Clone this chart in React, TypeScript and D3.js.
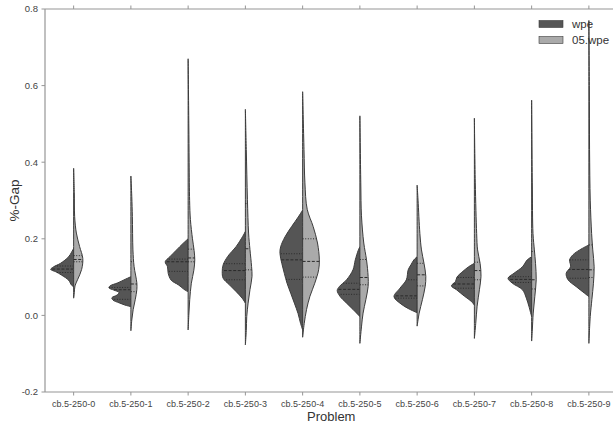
import * as d3 from "d3";

const W = 613;
const H = 424;
const margin = { top: 9, left: 45, bottom: 392, right: 617.5 };

const problems = [
  "cb.5-250-0", "cb.5-250-1", "cb.5-250-2", "cb.5-250-3", "cb.5-250-4",
  "cb.5-250-5", "cb.5-250-6", "cb.5-250-7", "cb.5-250-8", "cb.5-250-9",
];
const seriesNames = ["wpe", "05.wpe"];
const yTicks = [-0.2, 0.0, 0.2, 0.4, 0.6, 0.8];

// density profiles: [%-gap, relative density]
const wpeProfiles: [number, number][][] = [
  [[0.075, 0], [0.079, 0.09], [0.092, 0.22], [0.105, 0.52], [0.114, 0.78], [0.12, 1.0], [0.127, 0.87], [0.136, 0.57], [0.153, 0.22], [0.165, 0.09], [0.175, 0]],
  [[0.023, 0], [0.027, 0.26], [0.033, 0.52], [0.04, 0.78], [0.046, 0.83], [0.053, 0.61], [0.06, 0.52], [0.066, 0.74], [0.072, 0.96], [0.077, 0.91], [0.085, 0.57], [0.095, 0.22], [0.101, 0]],
  [[0.062, 0], [0.066, 0.13], [0.08, 0.43], [0.092, 0.74], [0.11, 0.87], [0.127, 0.9], [0.14, 1.0], [0.153, 0.8], [0.17, 0.52], [0.188, 0.22], [0.2, 0]],
  [[0.032, 0], [0.045, 0.14], [0.062, 0.4], [0.08, 0.7], [0.097, 0.97], [0.114, 1.01], [0.132, 0.97], [0.154, 0.77], [0.18, 0.4], [0.206, 0.12], [0.219, 0]],
  [[-0.038, 0], [-0.021, 0.09], [0.005, 0.2], [0.032, 0.36], [0.058, 0.52], [0.084, 0.68], [0.11, 0.8], [0.136, 0.91], [0.162, 0.99], [0.179, 0.96], [0.205, 0.77], [0.232, 0.48], [0.257, 0.19], [0.275, 0]],
  [[-0.003, 0], [0.015, 0.29], [0.032, 0.58], [0.05, 0.87], [0.065, 0.99], [0.075, 0.9], [0.093, 0.58], [0.119, 0.3], [0.145, 0.2], [0.17, 0.07], [0.179, 0]],
  [[0.007, 0], [0.018, 0.39], [0.032, 0.75], [0.049, 1.01], [0.071, 0.75], [0.093, 0.47], [0.119, 0.39], [0.132, 0.27], [0.145, 0.14], [0.153, 0]],
  [[0.027, 0], [0.037, 0.14], [0.05, 0.43], [0.067, 0.78], [0.077, 1.0], [0.089, 0.82], [0.1, 0.76], [0.115, 0.5], [0.127, 0.25], [0.136, 0]],
  [[-0.003, 0], [0.024, 0.12], [0.045, 0.23], [0.067, 0.4], [0.084, 0.84], [0.097, 1.03], [0.11, 0.77], [0.127, 0.4], [0.145, 0.19], [0.153, 0]],
  [[0.049, 0], [0.058, 0.19], [0.075, 0.55], [0.093, 0.91], [0.11, 0.99], [0.127, 0.8], [0.145, 0.84], [0.158, 0.7], [0.171, 0.4], [0.184, 0]],
];

const wpe05Profiles: [number, number][][] = [
  [[0.045, 0], [0.06, 0.03], [0.077, 0.06], [0.093, 0.17], [0.12, 0.35], [0.149, 0.4], [0.18, 0.26], [0.215, 0.12], [0.258, 0.045], [0.32, 0.03], [0.384, 0]],
  [[-0.04, 0], [-0.012, 0.04], [0.015, 0.1], [0.041, 0.19], [0.067, 0.26], [0.085, 0.26], [0.128, 0.14], [0.171, 0.09], [0.258, 0.065], [0.31, 0.04], [0.364, 0]],
  [[-0.038, 0], [0, 0.03], [0.041, 0.07], [0.084, 0.14], [0.118, 0.25], [0.145, 0.29], [0.17, 0.26], [0.2, 0.19], [0.25, 0.1], [0.3, 0.065], [0.4, 0.045], [0.5, 0.03], [0.67, 0]],
  [[-0.077, 0], [-0.04, 0.04], [-0.003, 0.06], [0.032, 0.12], [0.067, 0.2], [0.102, 0.29], [0.128, 0.27], [0.172, 0.2], [0.215, 0.14], [0.302, 0.09], [0.433, 0.04], [0.538, 0]],
  [[-0.057, 0], [-0.021, 0.07], [0.015, 0.17], [0.05, 0.32], [0.084, 0.53], [0.119, 0.7], [0.145, 0.73], [0.189, 0.65], [0.232, 0.46], [0.277, 0.2], [0.346, 0.1], [0.433, 0.06], [0.584, 0]],
  [[-0.073, 0], [-0.03, 0.07], [0.006, 0.14], [0.041, 0.26], [0.075, 0.36], [0.102, 0.36], [0.145, 0.29], [0.189, 0.17], [0.26, 0.07], [0.346, 0.04], [0.521, 0]],
  [[-0.028, 0], [0.006, 0.09], [0.041, 0.23], [0.075, 0.35], [0.102, 0.38], [0.136, 0.3], [0.171, 0.19], [0.214, 0.12], [0.301, 0.04], [0.34, 0]],
  [[-0.06, 0], [-0.021, 0.06], [0.024, 0.12], [0.067, 0.22], [0.102, 0.29], [0.136, 0.25], [0.171, 0.14], [0.214, 0.1], [0.346, 0.04], [0.515, 0]],
  [[-0.067, 0], [-0.038, 0.03], [0.006, 0.07], [0.05, 0.14], [0.093, 0.2], [0.136, 0.17], [0.171, 0.12], [0.214, 0.06], [0.346, 0.03], [0.562, 0]],
  [[-0.073, 0], [-0.003, 0.06], [0.041, 0.13], [0.084, 0.2], [0.127, 0.23], [0.171, 0.17], [0.214, 0.12], [0.301, 0.06], [0.433, 0.03], [0.6, 0.02], [0.77, 0]],
];

// [q1, median, q3]
const wpeQuartiles: [number, number, number][] = [
  [0.112, 0.121, 0.129], [0.042, 0.067, 0.073], [0.115, 0.14, 0.147], [0.093, 0.117, 0.135], [0.094, 0.145, 0.161],
  [0.055, 0.068, 0.084], [0.045, 0.051, 0.093], [0.071, 0.082, 0.099], [0.086, 0.094, 0.101], [0.097, 0.12, 0.145],
];
const wpe05Quartiles: [number, number, number][] = [
  [0.14, 0.146, 0.156], [0.062, 0.082, 0.14], [0.14, 0.15, 0.173], [0.119, 0.174, 0.292], [0.1, 0.141, 0.2],
  [0.08, 0.099, 0.146], [0.077, 0.106, 0.136], [0.093, 0.117, 0.139], [0.069, 0.093, 0.167], [0.099, 0.119, 0.184],
];

const FILLS = ["#555555", "#aaaaaa"];
const EDGE = "#3c3c3c";
const SPINE = "#969696";
const FONT = "'Liberation Sans', Arial, sans-serif";

export default function App() {
  const x = d3.scaleBand().domain(problems).range([margin.left, margin.right]);
  const y = d3.scaleLinear().domain([-0.2, 0.8]).range([margin.bottom, margin.top]);
  const bw = x.bandwidth();
  const w = d3.scaleLinear().domain([0, 1]).range([0, bw * 0.4]);
  const cx = (p: string) => (x(p) ?? 0) + bw / 2;

  const halves = [
    { profiles: wpeProfiles, quartiles: wpeQuartiles, side: -1, fill: FILLS[0] },
    { profiles: wpe05Profiles, quartiles: wpe05Quartiles, side: 1, fill: FILLS[1] },
  ];

  return (
    <svg width={W} height={H} style={{ position: "absolute", left: 0, top: 0, background: "#fff" }}>
      <rect x={0} y={0} width={W} height={H} fill="#fff" />

      {problems.map((p, i) => {
        const c = cx(p);
        return (
          <g key={p}>
            {halves.map((h, k) => {
              const prof = h.profiles[i];
              const area = d3
                .area<[number, number]>()
                .y((d) => y(d[0]))
                .x0(c)
                .x1((d) => c + h.side * w(d[1]))
                .curve(d3.curveCatmullRom.alpha(0.5));
              const dens = d3.scaleLinear().domain(prof.map((d) => d[0])).range(prof.map((d) => d[1]));
              return (
                <g key={k}>
                  <path d={area(prof) ?? ""} fill={h.fill} stroke={EDGE} strokeWidth={1} strokeLinejoin="round" />
                  {h.quartiles[i].map((q, j) => (
                    <line
                      key={j}
                      x1={c}
                      x2={c + h.side * w(dens(q))}
                      y1={y(q)}
                      y2={y(q)}
                      stroke="#2a2a2a"
                      strokeWidth={1}
                      strokeDasharray={j === 1 ? "3,1.6" : "1,1.6"}
                    />
                  ))}
                </g>
              );
            })}
          </g>
        );
      })}

      {/* spines */}
      <line x1={margin.left} x2={margin.left} y1={margin.top} y2={margin.bottom} stroke={SPINE} strokeWidth={1.2} />
      <line x1={margin.left} x2={W} y1={margin.bottom} y2={margin.bottom} stroke={SPINE} strokeWidth={1.2} />
      <line x1={margin.left} x2={W} y1={margin.top} y2={margin.top} stroke={SPINE} strokeWidth={1.2} />

      {/* y ticks */}
      {yTicks.map((t) => (
        <g key={t}>
          <line x1={margin.left - 3.5} x2={margin.left} y1={y(t)} y2={y(t)} stroke={SPINE} strokeWidth={1} />
          <text x={margin.left - 7} y={y(t)} dy="0.35em" textAnchor="end" fontSize={9.5} fontFamily={FONT} fill="#444">
            {t.toFixed(1)}
          </text>
        </g>
      ))}

      {/* x ticks top and bottom */}
      {problems.map((p) => (
        <g key={p}>
          <line x1={cx(p)} x2={cx(p)} y1={margin.bottom} y2={margin.bottom + 3.5} stroke={SPINE} strokeWidth={1} />
          <line x1={cx(p)} x2={cx(p)} y1={margin.top - 3.5} y2={margin.top} stroke={SPINE} strokeWidth={1} />
          <text x={cx(p)} y={406.5} textAnchor="middle" fontSize={9} fontFamily={FONT} fill="#444">
            {p}
          </text>
        </g>
      ))}

      <text x={(margin.left + margin.right) / 2} y={421} textAnchor="middle" fontSize={13} fontFamily={FONT} fill="#333">
        Problem
      </text>
      <text
        transform={`translate(19,${(margin.top + margin.bottom) / 2}) rotate(-90)`}
        textAnchor="middle"
        fontSize={13.5}
        fontFamily={FONT}
        fill="#333"
      >
        %-Gap
      </text>

      {/* legend */}
      {seriesNames.map((s, i) => (
        <g key={s} transform={`translate(539,${20.5 + i * 16})`}>
          <rect x={0} y={0} width={24} height={7} fill={FILLS[i]} stroke={EDGE} strokeWidth={0.6} />
          <text x={33} y={7.2} fontSize={11.5} fontFamily={FONT} fill="#333">
            {s}
          </text>
        </g>
      ))}
    </svg>
  );
}
